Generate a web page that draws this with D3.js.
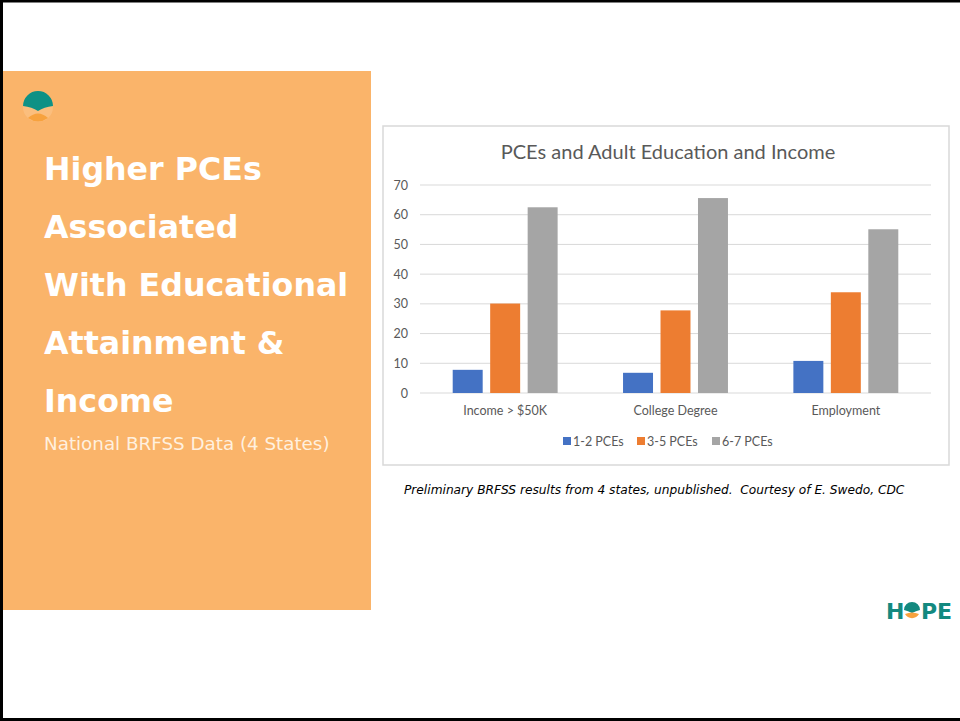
<!DOCTYPE html>
<html>
<head>
<meta charset="utf-8">
<script src="https://cdn.jsdelivr.net/npm/d3@7"></script>
<style>
  html, body { margin: 0; padding: 0; background: #fff; }
  svg { display: block; }
</style>
</head>
<body>
<div id="slide"></div>
<script>
// Chart data
var categories = ["Income > $50K", "College Degree", "Employment"];
var seriesNames = ["1-2 PCEs", "3-5 PCEs", "6-7 PCEs"];
var seriesColors = ["#4472C4", "#ED7D31", "#A5A5A5"];
var lowPCEs = [7.8, 6.8, 10.8];
var midPCEs = [30.1, 27.8, 33.9];
var highPCEs = [62.5, 65.6, 55.1];
var yTicks = [0, 10, 20, 30, 40, 50, 60, 70];

// Slide text
var headingLines = ["Higher PCEs", "Associated", "With Educational", "Attainment &", "Income"];
var subHeading = "National BRFSS Data (4 States)";
var chartTitle = "PCEs and Adult Education and Income";
var caption = "Preliminary BRFSS results from 4 states, unpublished.  Courtesy of E. Swedo, CDC";

var width = 960, height = 721;
var svg = d3.select("#slide").append("svg")
    .attr("width", width)
    .attr("height", height);

// Slide frame
svg.append("rect").attr("x", 0).attr("y", 0).attr("width", width).attr("height", height).attr("fill", "#fff");
svg.append("path")
    .attr("d", "M1.5,721 L1.5,1 L960,1")
    .attr("stroke", "#000").attr("stroke-width", 3).attr("fill", "none");
svg.append("line")
    .attr("x1", 0).attr("x2", width).attr("y1", 719.5).attr("y2", 719.5)
    .attr("stroke", "#000").attr("stroke-width", 3);

// Orange panel on the left
svg.append("rect")
    .attr("x", 3).attr("y", 71)
    .attr("width", 368).attr("height", 539)
    .attr("fill", "#FAB46A");

// Small logo in the panel
var logo = svg.append("g").attr("transform", "translate(38,107)");
logo.append("circle").attr("r", 15).attr("fill", "#FCC58A").attr("opacity", 0.6);
logo.append("path")
    .attr("d", "M-15,-1 A15,15 0 0 1 15,-1 Q6,0 0,4 Q-6,0 -15,-1 Z")
    .attr("fill", "#0E9185");
logo.append("path")
    .attr("d", "M-10,11 Q0,2 10,11 Q0,18 -10,11 Z")
    .attr("fill", "#F7A23E");

// Heading
svg.append("g").selectAll("text")
    .data(headingLines)
    .enter()
    .append("text")
    .attr("x", 44)
    .attr("y", function(d, i) { return 180 + i * 58; })
    .attr("fill", "#fff")
    .style("font-family", "'DejaVu Sans', Verdana, sans-serif")
    .style("font-weight", "700")
    .style("font-size", "31.7px")
    .text(function(d) { return d; });

svg.append("text")
    .attr("x", 44)
    .attr("y", 450)
    .attr("fill", "#FFF0DF")
    .style("font-family", "'DejaVu Sans', Verdana, sans-serif")
    .style("font-size", "18.3px")
    .text(subHeading);

// Chart box
var box = { x: 383, y: 126, w: 566, h: 339 };
svg.append("rect")
    .attr("x", box.x).attr("y", box.y)
    .attr("width", box.w).attr("height", box.h)
    .attr("fill", "#fff")
    .attr("stroke", "#D9D9D9")
    .attr("stroke-width", 1.5);

var chartFont = "Lato, 'Open Sans', sans-serif";
var textGray = "#595959";

svg.append("text")
    .attr("x", 668).attr("y", 151)
    .attr("text-anchor", "middle")
    .attr("dominant-baseline", "central")
    .attr("fill", textGray)
    .style("font-family", chartFont)
    .style("font-size", "20px")
    .text(chartTitle);

// Scales
var x0 = d3.scaleBand()
    .domain(categories)
    .range([420, 931])
    .paddingInner(0.384)
    .paddingOuter(0.192);
var x1 = d3.scaleBand()
    .domain(seriesNames)
    .range([0, x0.bandwidth()])
    .paddingInner(0.2);
var y = d3.scaleLinear()
    .domain([0, 70])
    .range([393, 185]);

// Gridlines
svg.append("g").selectAll("line")
    .data(yTicks)
    .enter()
    .append("line")
    .attr("x1", 420).attr("x2", 931)
    .attr("y1", function(d) { return y(d); })
    .attr("y2", function(d) { return y(d); })
    .attr("stroke", "#D9D9D9")
    .attr("stroke-width", 1);

// Y axis labels
var yAxis = svg.append("g")
    .attr("transform", "translate(414,0)")
    .call(d3.axisLeft(y).tickValues(yTicks).tickSize(0).tickPadding(6));
yAxis.select(".domain").remove();
yAxis.selectAll("text")
    .attr("fill", textGray)
    .style("font-family", chartFont)
    .style("font-size", "12.5px");

// X axis labels
var xAxis = svg.append("g")
    .attr("transform", "translate(0,393)")
    .call(d3.axisBottom(x0).tickSize(0).tickPadding(13));
xAxis.select(".domain").remove();
xAxis.selectAll("text")
    .attr("fill", textGray)
    .style("font-family", chartFont)
    .style("font-size", "12.5px");

// Bars
var seriesValues = [lowPCEs, midPCEs, highPCEs];
var rows = categories.map(function(c, i) {
    return {
        category: c,
        values: seriesNames.map(function(s, j) {
            return { series: s, value: seriesValues[j][i], color: seriesColors[j] };
        })
    };
});
var groups = svg.append("g").selectAll("g")
    .data(rows)
    .enter()
    .append("g")
    .attr("transform", function(d) { return "translate(" + x0(d.category) + ",0)"; });
groups.selectAll("rect")
    .data(function(d) { return d.values; })
    .enter()
    .append("rect")
    .attr("x", function(d) { return x1(d.series); })
    .attr("y", function(d) { return y(d.value); })
    .attr("width", x1.bandwidth())
    .attr("height", function(d) { return y(0) - y(d.value); })
    .attr("fill", function(d) { return d.color; });

// Legend
var legendX = [563, 637, 712];
var legend = svg.append("g").selectAll("g")
    .data(seriesNames)
    .enter()
    .append("g")
    .attr("transform", function(d, i) { return "translate(" + legendX[i] + ",441)"; });
legend.append("rect")
    .attr("x", 0).attr("y", -4)
    .attr("width", 8).attr("height", 8)
    .attr("fill", function(d, i) { return seriesColors[i]; });
legend.append("text")
    .attr("x", 10).attr("y", 0)
    .attr("dominant-baseline", "central")
    .attr("fill", textGray)
    .style("font-family", chartFont)
    .style("font-size", "12.5px")
    .text(function(d) { return d; });

// Caption
svg.append("text")
    .attr("x", 404).attr("y", 494)
    .attr("fill", "#000")
    .style("white-space", "pre")
    .style("font-family", "'DejaVu Sans', Verdana, sans-serif")
    .style("font-style", "italic")
    .style("font-size", "12.2px")
    .text(caption);

// HOPE logo
var hope = svg.append("g").attr("transform", "translate(886,619)");
var hopeFont = "'DejaVu Sans', Verdana, sans-serif";
hope.append("text")
    .attr("x", 0).attr("y", 0)
    .attr("fill", "#13897F")
    .style("font-family", hopeFont)
    .style("font-weight", "700")
    .style("font-size", "22px")
    .text("H");
var o = hope.append("g").attr("transform", "translate(26,-8)");
o.append("path")
    .attr("d", "M-8,-1 A8,8 0 0 1 8,-1 Q4,0 0,2 Q-4,0 -8,-1 Z")
    .attr("fill", "#13897F");
o.append("path")
    .attr("d", "M-7,3 Q0,0 7,3 A8,8 0 0 1 -7,3 Z")
    .attr("fill", "#F7A23E");
hope.append("text")
    .attr("x", 35).attr("y", 0)
    .attr("fill", "#13897F")
    .style("font-family", hopeFont)
    .style("font-weight", "700")
    .style("font-size", "22px")
    .text("PE");
</script>
</body>
</html>
